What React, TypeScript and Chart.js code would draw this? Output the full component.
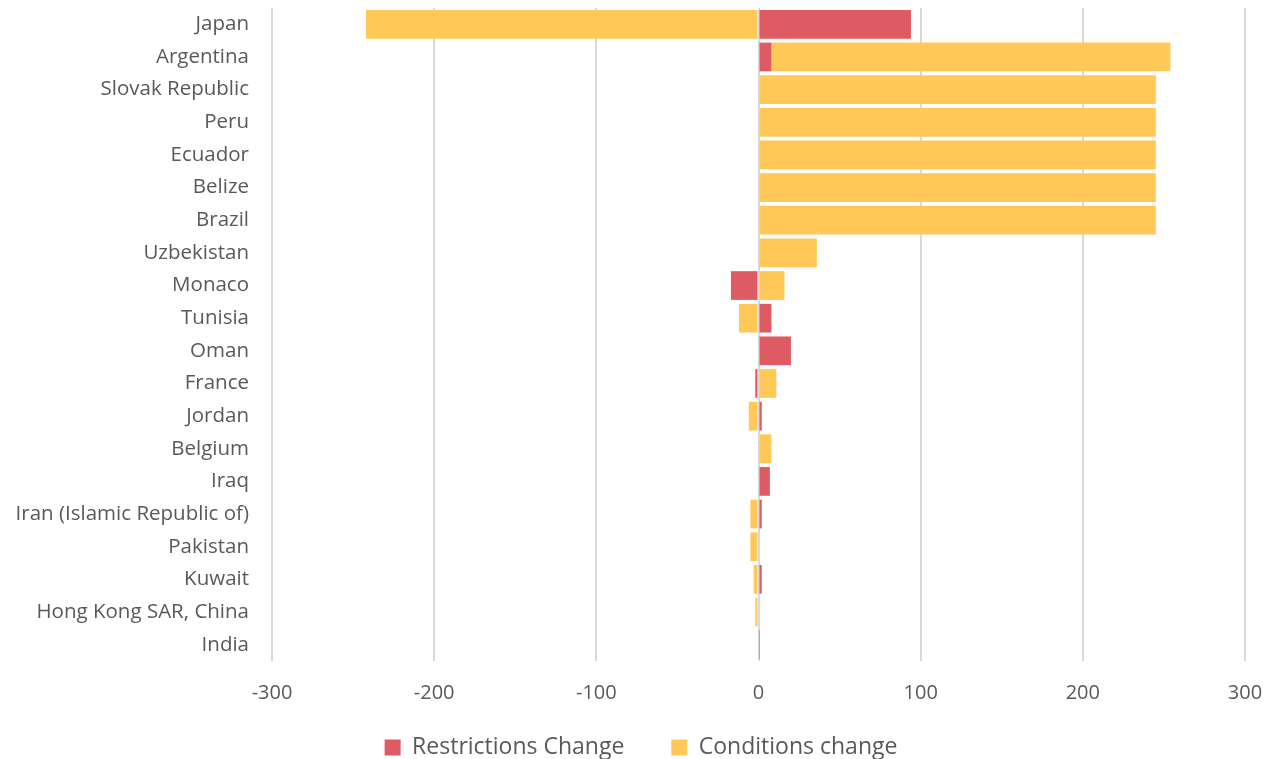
import React, { useEffect, useRef } from "react";
import { Chart, registerables } from "chart.js";

Chart.register(...registerables);

const countries = [
  "Japan",
  "Argentina",
  "Slovak Republic",
  "Peru",
  "Ecuador",
  "Belize",
  "Brazil",
  "Uzbekistan",
  "Monaco",
  "Tunisia",
  "Oman",
  "France",
  "Jordan",
  "Belgium",
  "Iraq",
  "Iran (Islamic Republic of)",
  "Pakistan",
  "Kuwait",
  "Hong Kong SAR, China",
  "India",
];

const restrictionsChange = [94, 8, 0, 0, 0, 0, 0, 0, -17, 8, 20, -2, 2, 0, 7, 2, 0, 2, 0, 0.3];
const conditionsChange = [-242, 246, 245, 245, 245, 245, 245, 36, 16, -12, 0, 11, -6, 8, 0, -5, -5, -3, -2, 0];

const xTicks = [-300, -200, -100, 0, 100, 200, 300];

const FONT = "'Open Sans', sans-serif";
const TEXT = "#595959";

export default function App() {
  const canvasRef = useRef<HTMLCanvasElement | null>(null);

  useEffect(() => {
    const canvas = canvasRef.current;
    if (!canvas) return;
    const defaultLabels = Chart.defaults.plugins.legend.labels.generateLabels;
    const chart = new Chart(canvas, {
      type: "bar",
      data: {
        labels: countries,
        datasets: [
          {
            label: "Restrictions Change",
            data: restrictionsChange,
            backgroundColor: "#DE5B63",
            borderWidth: 0,
            barPercentage: 0.88,
            categoryPercentage: 1,
          },
          {
            label: "Conditions change",
            data: conditionsChange,
            backgroundColor: "#FFC857",
            borderWidth: 0,
            barPercentage: 0.88,
            categoryPercentage: 1,
          },
        ],
      },
      options: {
        indexAxis: "y",
        animation: false,
        responsive: false,
        maintainAspectRatio: false,
        layout: { padding: { top: 8, right: 0, left: 8, bottom: 0 } },
        scales: {
          x: {
            stacked: true,
            min: xTicks[0],
            max: xTicks[xTicks.length - 1],
            afterBuildTicks: (scale: any) => {
              scale.ticks = xTicks.map((v) => ({ value: v }));
            },
            afterFit: (scale: any) => {
              scale.height = 46;
              scale.paddingLeft = 0;
              // keep room to the right of the plot
              scale.paddingRight = 29;
            },
            grid: {
              color: "#D9D9D9",
              lineWidth: 2,
              drawTicks: false,
            },
            border: { display: false },
            ticks: {
              color: TEXT,
              padding: 20,
              font: { family: FONT, size: 20 },
            },
          },
          y: {
            stacked: true,
            afterFit: (scale: any) => {
              scale.width = 264;
              scale.paddingTop = 0;
              scale.paddingBottom = 0;
            },
            grid: { display: false, drawTicks: false },
            border: { display: false },
            ticks: {
              color: TEXT,
              padding: 23,
              autoSkip: false,
              font: { family: FONT, size: 20.5 },
            },
          },
        },
        plugins: {
          tooltip: { enabled: false },
          legend: {
            position: "bottom",
            maxHeight: 52,
            labels: {
              color: TEXT,
              boxWidth: 16,
              boxHeight: 16,
              padding: 29,
              font: { family: FONT, size: 23 },
              generateLabels: (c: any) => {
                const items = defaultLabels(c);
                // wider gap after the first legend entry
                if (items.length > 1) items[0].text = items[0].text + "   ";
                return items;
              },
            },
          },
        },
      },
    });
    return () => chart.destroy();
  }, []);

  return (
    <div style={{ position: "fixed", left: 0, top: 0, width: 1274, height: 759, background: "#fff" }}>
      <canvas ref={canvasRef} width={1274} height={759} />
    </div>
  );
}
